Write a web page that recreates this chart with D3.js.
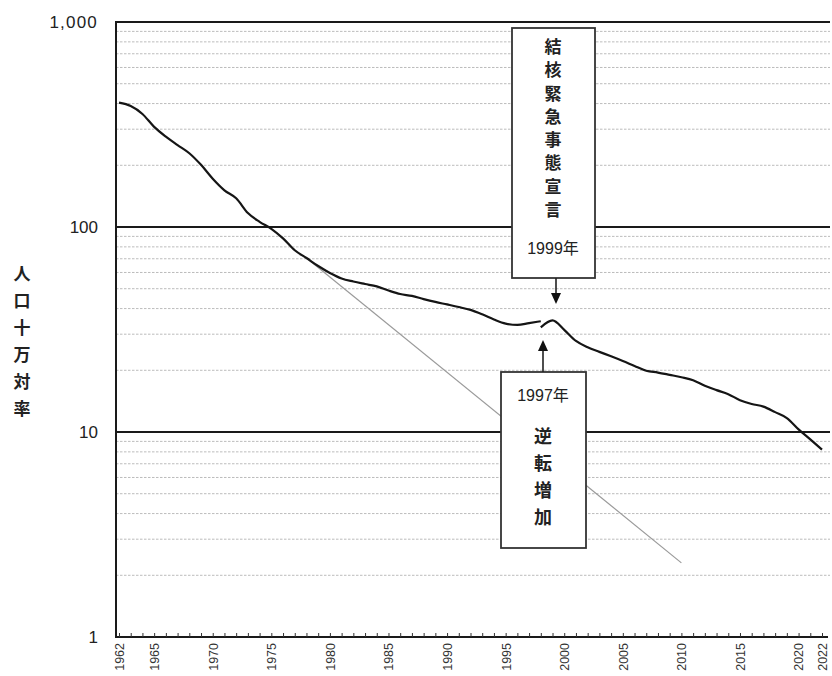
<!DOCTYPE html>
<html>
<head>
<meta charset="utf-8">
<script src="https://cdn.jsdelivr.net/npm/d3@7"></script>
<style>
  body { margin: 0; background: #fff; }
  svg { display: block; font-family: "Liberation Sans", Arial, sans-serif; }
  .jp { font-family: "Noto Sans CJK JP", sans-serif; }
  .vert { writing-mode: vertical-rl; text-orientation: upright; }
</style>
</head>
<body>
<div id="chart"></div>
<script>
// TB incidence per 100,000, old definition (1962-1998) and new definition (1998-2022)
const yearsOld = d3.range(1962, 1999);
const ratesOld = [404, 389, 356, 308, 276, 251, 229, 201, 172, 151,
                  138, 117, 106, 98, 88, 77, 70.6, 64.5, 59.7, 56.1,
                  54.2, 52.7, 51.3, 49.0, 47.1, 46.1, 44.5, 43.1, 41.9, 40.7,
                  39.4, 37.5, 35.4, 33.8, 33.3, 34.0, 34.7];
const yearsNew = d3.range(1998, 2023);
const ratesNew = [32.4, 35.0, 31.5, 27.8, 25.9, 24.6, 23.4, 22.2, 21.0, 19.9,
                  19.5, 19.0, 18.5, 17.9, 16.8, 16.0, 15.3, 14.3, 13.7, 13.3,
                  12.5, 11.7, 10.3, 9.2, 8.2];
// grey trend line (earlier decline pace)
const trendYears = [1978, 2010];
const trendRates = [70.6, 2.3];

const yTicks = [1, 10, 100, 1000];
const xLabelYears = [1962, 1965, 1970, 1975, 1980, 1985, 1990, 1995, 2000, 2005, 2010, 2015, 2020, 2022];

const W = 832, H = 676;
const plotL = 116, plotR = 830, plotT = 22, plotB = 637;

const svg = d3.select("#chart").append("svg")
  .attr("width", W)
  .attr("height", H);

const x = d3.scaleLinear().domain([1962, 2022]).range([119, 822]);
const y = d3.scaleLog().domain([1, 1000]).range([plotB, plotT]);

// minor dashed gridlines
const minor = [];
yTicks.slice(0, 3).forEach(d => { for (let k = 2; k <= 9; k++) minor.push(d * k); });
svg.append("g")
  .selectAll("line")
  .data(minor)
  .join("line")
  .attr("x1", plotL).attr("x2", plotR)
  .attr("y1", d => y(d)).attr("y2", d => y(d))
  .attr("stroke", "#bcbcbc")
  .attr("stroke-width", 1)
  .attr("stroke-dasharray", "2.5,1.5");

// major gridlines
svg.append("g")
  .selectAll("line")
  .data(yTicks.slice(1))
  .join("line")
  .attr("x1", plotL).attr("x2", plotR)
  .attr("y1", d => y(d)).attr("y2", d => y(d))
  .attr("stroke", "#1a1a1a")
  .attr("stroke-width", 2);

// y axis labels
svg.append("g")
  .attr("transform", `translate(${plotL},0)`)
  .call(d3.axisLeft(y).tickValues(yTicks).tickSize(0).tickPadding(18).tickFormat(d3.format(",")))
  .call(g => g.select(".domain").remove())
  .selectAll("text")
  .attr("font-size", "17px")
  .attr("fill", "#222")
  .attr("letter-spacing", d => d === 1000 ? "1.2px" : null)
  .style("font-family", "'Liberation Sans', Arial, sans-serif");

// left frame line
svg.append("line")
  .attr("x1", plotL).attr("x2", plotL)
  .attr("y1", plotT - 1).attr("y2", plotB + 1)
  .attr("stroke", "#1a1a1a").attr("stroke-width", 2);

// x axis: inward yearly ticks
const allYears = d3.range(1962, 2023);
svg.append("g")
  .attr("transform", `translate(0,${plotB})`)
  .call(d3.axisBottom(x).tickValues(allYears).tickSizeInner(-4).tickSizeOuter(0).tickFormat(""))
  .call(g => g.select(".domain").attr("d", `M${plotL},0H${plotR - 2}`).attr("stroke", "#1a1a1a").attr("stroke-width", 2))
  .call(g => g.selectAll(".tick line").attr("stroke", "#333").attr("stroke-width", 1));

// rotated year labels
svg.append("g")
  .attr("transform", `translate(0,${plotB})`)
  .call(d3.axisBottom(x).tickValues(xLabelYears).tickSize(0).tickFormat(d3.format("d")))
  .call(g => g.select(".domain").remove())
  .selectAll("text")
  .attr("font-size", "12.5px")
  .attr("fill", "#333")
  .style("font-family", "'Liberation Sans', Arial, sans-serif")
  .attr("text-anchor", "end")
  .attr("dy", "0.35em")
  .attr("transform", "translate(0,6) rotate(-90)")
  .attr("y", 0)
  .attr("x", 0);

// vertical Japanese text as one text element
function vtext(cx, yTop, size, gap, str, weight) {
  svg.append("text")
    .attr("class", "jp vert")
    .attr("x", cx)
    .attr("y", yTop)
    .attr("font-size", `${size}px`)
    .attr("font-weight", weight || "normal")
    .attr("letter-spacing", `${gap}px`)
    .attr("fill", "#222")
    .text(str);
}

// y axis title
vtext(22, 265, 17, 10, "人口十万対率", "bold");

// trend line
const line = d3.line().x(d => x(d[0])).y(d => y(d[1]));
svg.append("path")
  .datum(d3.zip(trendYears, trendRates))
  .attr("fill", "none")
  .attr("stroke", "#9a9a9a")
  .attr("stroke-width", 1.2)
  .attr("d", line);

// main series
[[yearsOld, ratesOld], [yearsNew, ratesNew]].forEach(([yr, rt]) => {
  svg.append("path")
    .datum(d3.zip(yr, rt))
    .attr("fill", "none")
    .attr("stroke", "#151515")
    .attr("stroke-width", 2.2)
    .attr("stroke-linejoin", "round")
    .attr("d", d3.line().curve(d3.curveMonotoneX).x(d => x(d[0])).y(d => y(d[1])));
});

// annotation boxes
function box(x0, y0, w, h) {
  svg.append("rect")
    .attr("x", x0).attr("y", y0)
    .attr("width", w).attr("height", h)
    .attr("fill", "#fff")
    .attr("stroke", "#333")
    .attr("stroke-width", 1.8);
}

function arrow(ax, y0, y1) {
  const dir = y1 > y0 ? 1 : -1;
  svg.append("line")
    .attr("x1", ax).attr("x2", ax)
    .attr("y1", y0).attr("y2", y1 - dir * 9)
    .attr("stroke", "#222").attr("stroke-width", 1.6);
  svg.append("path")
    .attr("d", `M${ax - 5},${y1 - dir * 11}L${ax + 5},${y1 - dir * 11}L${ax},${y1}Z`)
    .attr("fill", "#111");
}

// 1999 declaration
box(512, 28, 83, 250);
vtext(553, 38, 17, 6.3, "結核緊急事態宣言", "bold");
svg.append("text")
  .attr("x", 553).attr("y", 248).attr("dy", "0.35em")
  .attr("text-anchor", "middle")
  .attr("font-size", "16px").attr("fill", "#222")
  .html('1999<tspan class="jp">年</tspan>');
arrow(556, 278, 304);

// 1997 reversal
box(501, 372, 85, 176);
svg.append("text")
  .attr("x", 543).attr("y", 395).attr("dy", "0.35em")
  .attr("text-anchor", "middle")
  .attr("font-size", "16px").attr("fill", "#222")
  .html('1997<tspan class="jp">年</tspan>');
vtext(543, 427, 18, 9, "逆転増加", "bold");
arrow(543, 372, 340);
</script>
</body>
</html>
